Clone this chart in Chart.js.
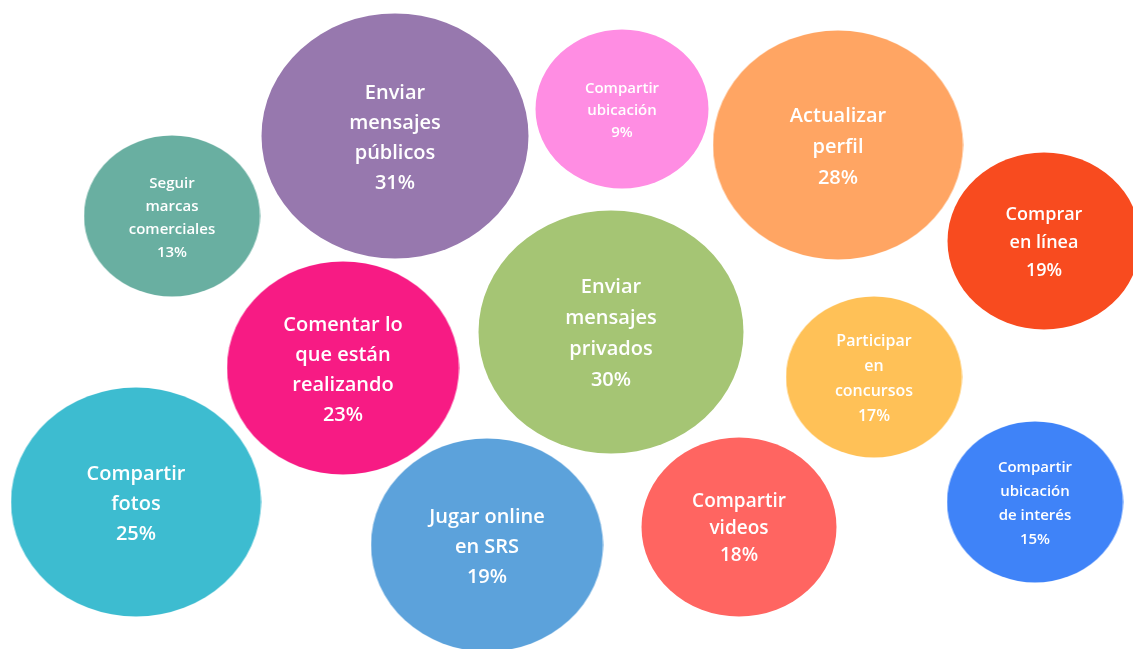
<!DOCTYPE html>
<html lang="es">
<head>
<meta charset="utf-8">
<title>Actividades en redes sociales</title>
<script src="https://cdn.jsdelivr.net/npm/chart.js@4/dist/chart.umd.min.js"></script>
<style>
    html, body { margin: 0; padding: 0; background: #fff; }
    #burbujas { display: block; }
</style>
</head>
<body>
<canvas id="burbujas" width="1133" height="649"></canvas>
<script>
// Datos
const categorias = [
    ['Enviar', 'mensajes', 'públicos'],
    ['Seguir', 'marcas', 'comerciales'],
    ['Compartir', 'ubicación'],
    ['Actualizar', 'perfil'],
    ['Comprar', 'en línea'],
    ['Enviar', 'mensajes', 'privados'],
    ['Comentar lo', 'que están', 'realizando'],
    ['Compartir', 'fotos'],
    ['Jugar online', 'en SRS'],
    ['Compartir', 'videos'],
    ['Participar', 'en', 'concursos'],
    ['Compartir', 'ubicación', 'de interés']
];
const porcentajes = [31, 13, 9, 28, 19, 30, 23, 25, 19, 18, 17, 15];
// posición de cada burbuja (unidades de los ejes) y su radio
const posX = [395, 172, 622, 838, 1044, 611, 343, 136, 487, 739, 874, 1035];
const posY = [136, 216, 109, 145, 241, 332, 368, 502, 545, 527, 377, 502];
const radios = [123, 81, 80, 115, 89, 122, 107, 115, 107, 90, 81, 81];

// Estilos
const colores = ['#9778AE', '#69AFA1', '#FF8DE3', '#FFA563', '#F84B1F', '#A5C574',
                 '#F71B84', '#3DBCD0', '#5CA2DB', '#FF6561', '#FFC157', '#3F83F8'];
const tamFuente = [20, 15, 15, 20, 18, 20, 20, 20, 20, 19, 16, 15];
const altoLinea = [30, 23, 22, 31, 28, 31, 30, 30, 30, 27, 25, 24];
const ASPECTO = 1.09; // las burbujas son algo más anchas que altas
const FUENTE = "'Open Sans', 'DejaVu Sans', sans-serif";

// Genera (y guarda) un canvas con la elipse de cada burbuja
const elipses = [];
function elipse(i) {
    if (elipses[i]) return elipses[i];
    const r = radios[i];
    const c = document.createElement('canvas');
    c.width = Math.round(r * 2 * ASPECTO);
    c.height = r * 2;
    const g = c.getContext('2d');
    g.fillStyle = colores[i];
    g.beginPath();
    g.ellipse(c.width / 2, c.height / 2, c.width / 2 - 0.5, c.height / 2 - 0.5, 0, 0, Math.PI * 2);
    g.fill();
    elipses[i] = c;
    return c;
}

// Plugin para escribir el texto dentro de cada burbuja
const etiquetas = {
    id: 'etiquetas',
    afterDatasetsDraw(chart) {
        const ctx = chart.ctx;
        const meta = chart.getDatasetMeta(0);
        ctx.save();
        ctx.fillStyle = '#ffffff';
        ctx.textAlign = 'center';
        ctx.textBaseline = 'middle';
        meta.data.forEach((el, i) => {
            const lineas = categorias[i].concat([porcentajes[i] + '%']);
            const lh = altoLinea[i];
            ctx.font = '600 ' + tamFuente[i] + 'px ' + FUENTE;
            const inicio = el.y + 2 - (lineas.length - 1) * lh / 2;
            lineas.forEach((txt, k) => {
                ctx.fillText(txt, el.x, inicio + k * lh);
            });
        });
        ctx.restore();
    }
};

const ctx = document.getElementById('burbujas').getContext('2d');
new Chart(ctx, {
    type: 'bubble',
    data: {
        labels: categorias.map(c => c.join(' ')),
        datasets: [{
            label: 'Actividades',
            data: porcentajes.map((v, i) => ({ x: posX[i], y: posY[i], r: radios[i], v: v })),
            backgroundColor: colores,
            borderWidth: 0,
            clip: false,
            pointStyle: (c) => elipse(c.dataIndex)
        }]
    },
    options: {
        responsive: false,
        animation: false,
        layout: { padding: 0, autoPadding: false },
        plugins: {
            legend: { display: false },
            tooltip: { enabled: false }
        },
        scales: {
            x: { type: 'linear', min: 0, max: 1133, display: false },
            y: { type: 'linear', min: 0, max: 649, reverse: true, display: false }
        }
    },
    plugins: [etiquetas]
});
</script>
</body>
</html>
